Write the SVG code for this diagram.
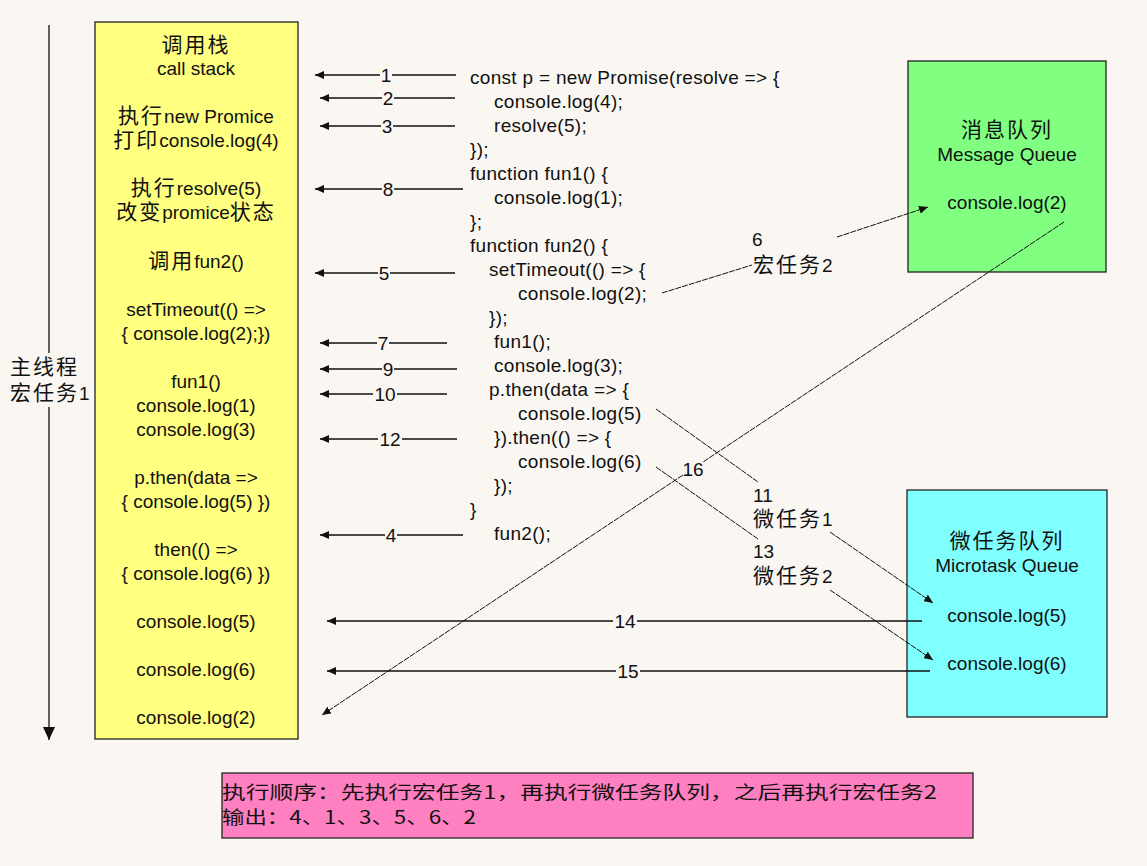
<svg xmlns="http://www.w3.org/2000/svg" width="1147" height="866" viewBox="0 0 1147 866">
<style>
text{font-family:"Liberation Sans","Noto Sans CJK SC",sans-serif;font-size:19px;fill:#111}
.m{text-anchor:middle}
.c{font-size:21px;letter-spacing:2px}
.code{letter-spacing:0.3px}
.cn{font-family:"Noto Sans CJK SC",sans-serif;font-size:18px}
.ln{stroke:#111;stroke-width:1.3;fill:none}
.dl{stroke:#111;stroke-width:1;fill:none;stroke-dasharray:6 1}
</style>
<defs>
<marker id="ah" markerUnits="userSpaceOnUse" markerWidth="10" markerHeight="8" refX="9" refY="4" orient="auto">
<path d="M0,0 L9,4 L0,8 z" fill="#111"/>
</marker>
<marker id="big" markerUnits="userSpaceOnUse" markerWidth="12" markerHeight="14" refX="6" refY="13" orient="0">
<path d="M0,0 L12,0 L6,13 z" fill="#111"/>
</marker>
</defs>
<rect width="1147" height="866" fill="#faf7f2"/>

<g id="main-thread">
<path class="ln" d="M49 25 V353"/>
<path class="ln" d="M49 407 V740" marker-end="url(#big)"/>
<text x="10" y="374"><tspan class="c">主线程</tspan></text>
<text x="10" y="400"><tspan class="c">宏任务</tspan>1</text>
</g>

<g id="call-stack">
<rect x="95" y="22" width="203" height="717" fill="#ffff80" stroke="#222" stroke-width="1.3"/>
<text class="m" x="196" y="52"><tspan class="c">调用栈</tspan></text>
<text class="m" x="196" y="75">call stack</text>
<text class="m" x="196" y="123"><tspan class="c">执行</tspan>new Promice</text>
<text class="m" x="196" y="147"><tspan class="c">打印</tspan>console.log(4)</text>
<text class="m" x="196" y="195"><tspan class="c">执行</tspan>resolve(5)</text>
<text class="m" x="196" y="219"><tspan class="c">改变</tspan>promice<tspan class="c">状态</tspan></text>
<text class="m" x="196" y="268"><tspan class="c">调用</tspan>fun2()</text>
<text class="m" x="196" y="316">setTimeout(() =&gt;</text>
<text class="m" x="196" y="340">{ console.log(2);})</text>
<text class="m" x="196" y="388">fun1()</text>
<text class="m" x="196" y="412">console.log(1)</text>
<text class="m" x="196" y="436">console.log(3)</text>
<text class="m" x="196" y="484">p.then(data =&gt;</text>
<text class="m" x="196" y="508">{ console.log(5) })</text>
<text class="m" x="196" y="556">then(() =&gt;</text>
<text class="m" x="196" y="580">{ console.log(6) })</text>
<text class="m" x="196" y="628">console.log(5)</text>
<text class="m" x="196" y="676">console.log(6)</text>
<text class="m" x="196" y="724">console.log(2)</text>
</g>

<g id="code" class="code">
<text class="code" x="470" y="84">const p = new Promise(resolve =&gt; {</text>
<text class="code" x="494" y="108">console.log(4);</text>
<text class="code" x="494" y="132">resolve(5);</text>
<text class="code" x="470" y="156">});</text>
<text class="code" x="470" y="180">function fun1() {</text>
<text class="code" x="494" y="204">console.log(1);</text>
<text class="code" x="470" y="228">};</text>
<text class="code" x="470" y="252">function fun2() {</text>
<text class="code" x="489" y="276">setTimeout(() =&gt; {</text>
<text class="code" x="518" y="300">console.log(2);</text>
<text class="code" x="489" y="324">});</text>
<text class="code" x="494" y="348">fun1();</text>
<text class="code" x="494" y="372">console.log(3);</text>
<text class="code" x="489" y="396">p.then(data =&gt; {</text>
<text class="code" x="518" y="420">console.log(5)</text>
<text class="code" x="494" y="444">}).then(() =&gt; {</text>
<text class="code" x="518" y="468">console.log(6)</text>
<text class="code" x="494" y="492">});</text>
<text class="code" x="470" y="516">}</text>
<text class="code" x="494" y="540">fun2();</text>
</g>

<g id="message-queue">
<rect x="908" y="61" width="198" height="211" fill="#80ff80" stroke="#222" stroke-width="1.3"/>
<text class="m" x="1007" y="137"><tspan class="c">消息队列</tspan></text>
<text class="m" x="1007" y="161">Message Queue</text>
<text class="m" x="1007" y="209">console.log(2)</text>
</g>

<g id="microtask-queue">
<rect x="907" y="490" width="200" height="227" fill="#80ffff" stroke="#222" stroke-width="1.3"/>
<text class="m" x="1007" y="548"><tspan class="c">微任务队列</tspan></text>
<text class="m" x="1007" y="572">Microtask Queue</text>
<text class="m" x="1007" y="622">console.log(5)</text>
<text class="m" x="1007" y="670">console.log(6)</text>
</g>

<g id="summary">
<rect x="222" y="773" width="751" height="65" fill="#ff80c0" stroke="#222" stroke-width="1.3"/>
<text class="cn" x="222" y="799" textLength="715" lengthAdjust="spacingAndGlyphs">执行顺序：先执行宏任务1，再执行微任务队列，之后再执行宏任务2</text>
<text class="cn" x="222" y="824" textLength="254" lengthAdjust="spacingAndGlyphs">输出：4、1、3、5、6、2</text>
</g>

<g id="connectors">
<path class="ln" d="M456 75 H392 M380 75 H315" marker-end="url(#ah)"/>
<text class="m" x="386" y="82">1</text>
<path class="ln" d="M455 98 H394 M382 98 H320" marker-end="url(#ah)"/>
<text class="m" x="388" y="105">2</text>
<path class="ln" d="M455 126 H393 M381 126 H320" marker-end="url(#ah)"/>
<text class="m" x="387" y="133">3</text>
<path class="ln" d="M463 189 H394 M382 189 H315" marker-end="url(#ah)"/>
<text class="m" x="388" y="196">8</text>
<path class="ln" d="M455 273 H390 M378 273 H315" marker-end="url(#ah)"/>
<text class="m" x="384" y="280">5</text>
<path class="ln" d="M447 343 H389 M377 343 H320" marker-end="url(#ah)"/>
<text class="m" x="383" y="350">7</text>
<path class="ln" d="M457 369 H394 M382 369 H320" marker-end="url(#ah)"/>
<text class="m" x="388" y="376">9</text>
<path class="ln" d="M447 394 H397 M373 394 H320" marker-end="url(#ah)"/>
<text class="m" x="385" y="401">10</text>
<path class="ln" d="M457 439 H402 M378 439 H320" marker-end="url(#ah)"/>
<text class="m" x="390" y="446">12</text>
<path class="ln" d="M463 535 H397 M385 535 H320" marker-end="url(#ah)"/>
<text class="m" x="391" y="542">4</text>
<path class="ln" d="M922 621 H637 M613 621 H327" marker-end="url(#ah)"/>
<text class="m" x="625" y="628">14</text>
<path class="ln" d="M930 671 H640 M616 671 H327" marker-end="url(#ah)"/>
<text class="m" x="628" y="678">15</text>

<path class="dl" d="M662 293 L752 265"/>
<text x="752" y="246">6</text>
<text x="753" y="272"><tspan class="c">宏任务</tspan>2</text>
<path class="dl" d="M837 237 L928 207" marker-end="url(#ah)"/>

<path class="dl" d="M1064 222 L703 462 M683 475 L322 715" marker-end="url(#ah)"/>
<text class="m" x="693" y="476">16</text>

<path class="dl" d="M656 409 L758 482"/>
<text x="753" y="502">11</text>
<text x="753" y="526"><tspan class="c">微任务</tspan>1</text>
<path class="dl" d="M830 532 L933 603" marker-end="url(#ah)"/>

<path class="dl" d="M656 467 L758 539"/>
<text x="753" y="558">13</text>
<text x="753" y="583"><tspan class="c">微任务</tspan>2</text>
<path class="dl" d="M830 590 L933 660" marker-end="url(#ah)"/>
</g>
</svg>
